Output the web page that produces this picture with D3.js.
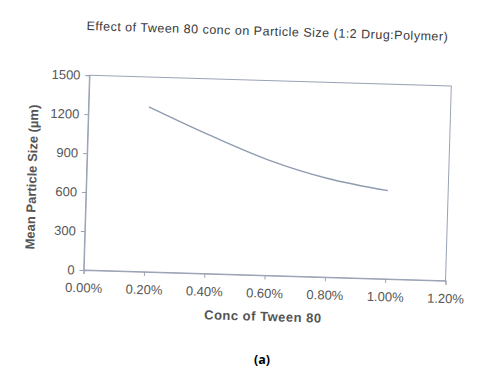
<!DOCTYPE html>
<html><head><meta charset="utf-8">
<script src="https://cdn.jsdelivr.net/npm/d3@7"></script>
<style>body{margin:0;background:#fff}svg{display:block}</style>
</head><body>
<svg id="c" width="487" height="369"></svg>
<script>
const concentrations = [0.2, 0.4, 0.6, 0.8, 1.0];
const particleSizes = [1270, 1070, 890, 760, 680];
const xTicks = [0, 0.2, 0.4, 0.6, 0.8, 1.0, 1.2];
const yTicks = [0, 300, 600, 900, 1200, 1500];
const titleText = "Effect of Tween 80 conc on Particle Size (1:2 Drug:Polymer)";
const xLabel = "Conc of Tween 80";
const yLabel = "Mean Particle Size (\u00b5m)";
const caption = "(a)";

const svg = d3.select("#c");
const m = {l: 86.5, t: 80.5, r: 448.5, b: 275.5};
const axisColor = "#9aa2b4", textColor = "#555";
const font = "'Liberation Sans', Arial, sans-serif";

const g = svg.append("g").attr("transform", "rotate(1.7, 267.5, 178)");

const x = d3.scaleLinear().domain([0, 1.2]).range([m.l, m.r]);
const y = d3.scaleLinear().domain([0, 1500]).range([m.b, m.t]);

// plot box
g.append("rect").attr("x", m.l).attr("y", m.t)
  .attr("width", m.r - m.l).attr("height", m.b - m.t)
  .attr("fill", "none").attr("stroke", axisColor).attr("stroke-width", 1);

// y axis
const ya = g.append("g").attr("transform", `translate(${m.l},0)`)
  .call(d3.axisLeft(y).tickValues(yTicks).tickSize(4).tickPadding(5).tickFormat(d3.format("d")));
ya.select(".domain").attr("stroke", axisColor);
ya.selectAll(".tick line").attr("stroke", axisColor);
ya.selectAll("text").attr("fill", textColor).attr("font-family", font).attr("font-size", 13);

// x axis
const xa = g.append("g").attr("transform", `translate(0,${m.b})`)
  .call(d3.axisBottom(x).tickValues(xTicks).tickSize(4).tickPadding(9)
    .tickFormat(d => d.toFixed(2) + "%"));
xa.select(".domain").attr("stroke", axisColor);
xa.selectAll(".tick line").attr("stroke", axisColor);
xa.selectAll("text").attr("fill", textColor).attr("font-family", font).attr("font-size", 13);

// line
const line = d3.line().x((d, i) => x(concentrations[i])).y(d => y(d))
  .curve(d3.curveCatmullRom.alpha(0.5));
g.append("path").datum(particleSizes).attr("d", line)
  .attr("fill", "none").attr("stroke", "#8f9bb0").attr("stroke-width", 1.4);

// title
g.append("text").attr("x", 263).attr("y", 35.5).attr("text-anchor", "middle")
  .attr("font-family", font).attr("font-size", 12.5).attr("letter-spacing", 0.5)
  .attr("fill", "#3a3a3a").text(titleText);

// x label
g.append("text").attr("x", 267).attr("y", 321).attr("text-anchor", "middle")
  .attr("font-family", font).attr("font-size", 13).attr("font-weight", "bold")
  .attr("letter-spacing", 0.5).attr("fill", textColor).text(xLabel);

// y label
g.append("text").attr("transform", "translate(36.5,184) rotate(-90)")
  .attr("text-anchor", "middle").attr("font-family", font).attr("font-size", 13)
  .attr("font-weight", "bold").attr("fill", textColor).text(yLabel);

// caption
svg.append("text").attr("x", 262).attr("y", 364).attr("text-anchor", "middle")
  .attr("font-family", "'Open Sans', 'Liberation Sans', sans-serif").attr("font-size", 12.5)
  .attr("font-weight", "bold").attr("fill", "#000").text(caption);
</script>
</body></html>
